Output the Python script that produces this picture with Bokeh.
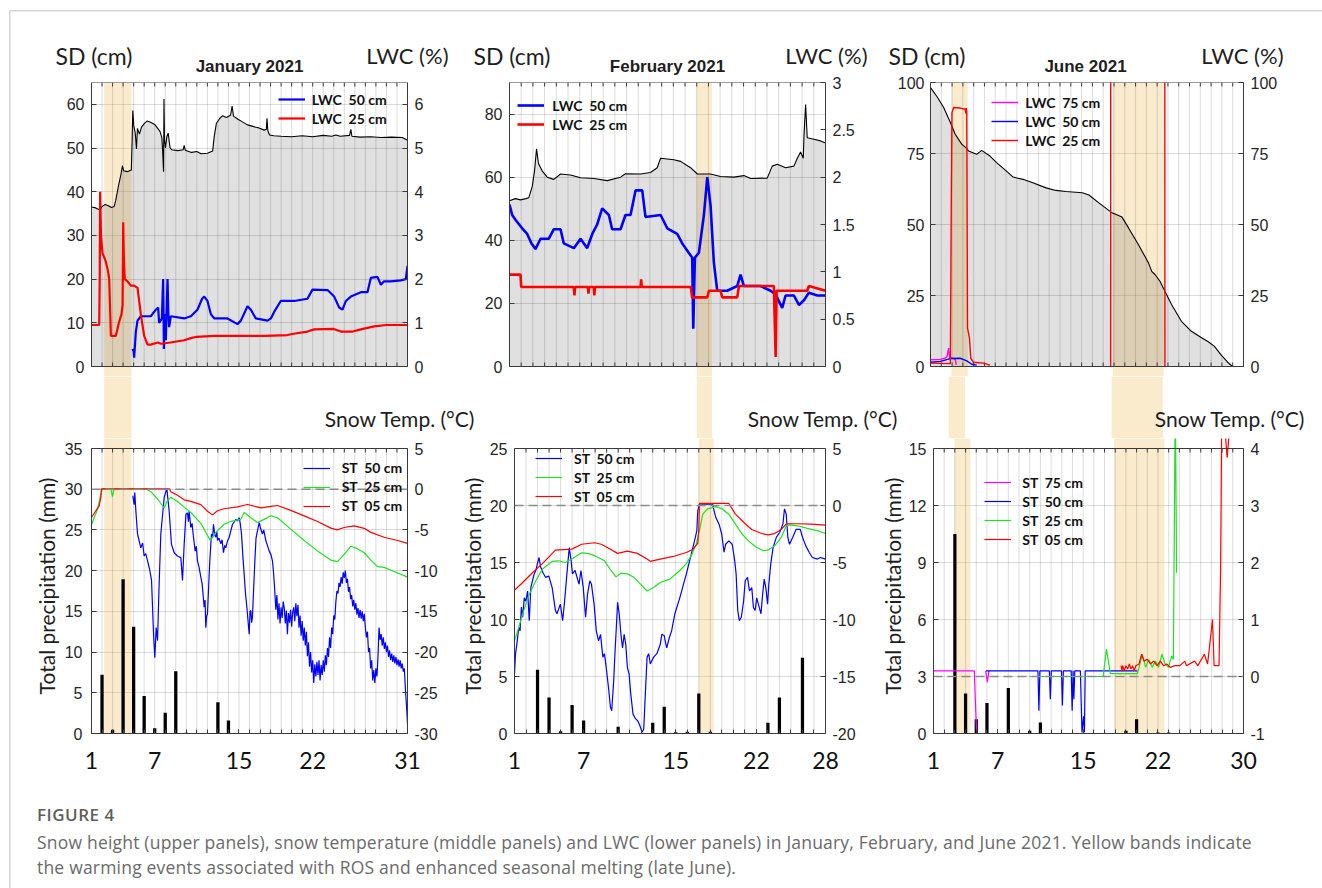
import math
from bokeh.plotting import figure
from bokeh.models import (Range1d, LinearAxis, FixedTicker, Span, Label, Legend, Title,
                          LegendItem, Div, NumeralTickFormatter, BoxAnnotation)
from bokeh.layouts import column, row
from bokeh.embed import file_html
from bokeh.resources import INLINE

NaN = float("nan")

# ======================= DATA (day of month, value) =======================
# ---------- January 2021 ----------
jan_days = list(range(1, 32))
jan_xlabels = [1, 7, 15, 22, 31]
jan_bands = [(2.2, 4.8)]
jan_sd_ticks = [0, 10, 20, 30, 40, 50, 60]
jan_lwc_ticks = [0, 1, 2, 3, 4, 5, 6]
jan_p_ticks = [0, 5, 10, 15, 20, 25, 30, 35]
jan_st_ticks = [-30, -25, -20, -15, -10, -5, 0, 5]
jan_sd = [(1.00,36.5),(1.40,36.3),(1.80,35.8),(2.00,36.6),(2.30,37.1),(2.60,36.8),(2.90,36.4),(3.15,36.6),
          (3.30,38.0),(3.55,41.2),(3.80,44.0),(3.94,46.0),(4.05,44.8),(4.40,44.6),(4.78,45.0),(4.86,52.0),
          (4.92,58.6),(5.02,55.0),(5.15,53.5),(5.27,49.8),(5.36,54.5),(5.55,53.2),(5.75,54.8),(6.00,55.6),
          (6.30,56.2),(6.60,55.9),(7.00,55.4),(7.25,54.6),(7.50,53.8),(7.68,52.4),(7.78,48.0),(7.84,44.6),
          (7.88,61.2),(7.93,52.0),(8.02,50.0),(8.15,52.6),(8.28,53.4),(8.45,50.2),(8.60,49.6),(9.20,49.4),
          (9.70,49.6),(9.80,50.6),(9.90,49.5),(10.50,49.0),(11.00,49.2),(11.40,48.7),(12.00,48.8),(12.50,49.3),
          (12.65,52.6),(12.85,55.6),(13.15,56.7),(13.45,57.4),(13.80,57.0),(14.20,57.5),(14.35,59.6),(14.48,57.3),
          (14.90,56.6),(15.25,56.1),(15.80,55.3),(16.40,54.9),(16.90,54.6),(17.40,54.1),(17.60,54.3),(17.66,56.8),
          (17.74,54.0),(17.90,53.0),(18.30,52.8),(19.00,52.7),(20.00,52.6),(21.00,52.8),(22.00,52.6),(23.00,52.9),
          (23.80,52.7),(24.20,53.0),(24.60,52.7),(25.50,52.9),(25.62,54.3),(25.72,52.7),(26.50,52.5),(27.50,52.6),
          (28.50,52.4),(29.50,52.5),(30.50,52.4),(31.00,51.8)]
jan_lwc50 = [(4.89,0.40),(5.00,0.35),(5.05,0.20),(5.21,0.80),(5.37,1.05),(5.68,1.15),(6.63,1.15),(7.11,1.30),
             (7.33,1.35),(7.42,1.00),(7.68,1.10),(7.80,2.00),(7.85,1.00),(7.87,0.40),(7.95,1.20),(8.06,0.60),
             (8.15,1.50),(8.22,2.00),(8.30,1.20),(8.37,0.90),(8.53,1.15),(9.80,1.10),(10.43,1.15),(11.06,1.30),
             (11.50,1.55),(11.70,1.60),(12.01,1.50),(12.33,1.20),(12.65,1.10),(13.91,1.10),(14.86,0.97),(15.18,1.05),
             (15.81,1.38),(16.13,1.30),(16.60,1.10),(17.71,1.05),(18.03,1.10),(18.34,1.25),(18.97,1.50),(20.24,1.50),
             (21.50,1.55),(21.98,1.76),(23.41,1.75),(24.04,1.60),(24.51,1.35),(24.83,1.30),(25.15,1.50),(25.62,1.60),
             (26.57,1.70),(27.20,1.70),(27.52,2.03),(28.15,2.05),(28.47,1.87),(28.78,1.95),(29.42,1.95),(30.37,1.97),
             (30.84,2.00),(31.00,2.30)]
jan_lwc25 = [(1.00,0.95),(1.73,0.95),(1.78,2.00),(1.82,4.00),(1.90,3.00),(2.04,2.60),(2.36,2.40),(2.55,2.20),
             (2.68,2.00),(2.78,1.20),(2.84,0.70),(3.31,0.70),(3.60,1.00),(3.72,1.10),(3.85,1.20),(3.95,1.40),
             (4.01,3.30),(4.08,2.40),(4.16,2.00),(4.42,1.95),(4.73,1.85),(5.05,1.85),(5.37,1.80),(5.68,1.20),
             (6.00,0.70),(6.32,0.50),(6.63,0.50),(7.27,0.55),(7.60,0.52),(8.50,0.55),(9.80,0.60),(10.43,0.65),
             (11.00,0.68),(12.65,0.70),(15.00,0.70),(17.50,0.70),(19.60,0.72),(20.20,0.75),(21.50,0.80),(22.14,0.85),
             (24.00,0.86),(24.67,0.80),(25.80,0.80),(26.57,0.85),(27.84,0.92),(29.00,0.95),(31.00,0.95)]
jan_precip_day = [2, 3, 4, 5, 6, 7, 8, 9, 10, 13, 14, 18]
jan_precip_mm = [7.2, 0.45, 18.95, 13.1, 4.6, 0.65, 2.55, 7.65, 0.1, 3.85, 1.6, 0.1]
jan_st05 = [(1.00,-3.47),(1.41,-2.65),(1.73,-2.04),(1.89,-1.0),(1.95,0.05),(8.40,0.05),(8.53,-0.3),(9.16,-0.75),
            (9.80,-1.3),(10.43,-1.5),(11.38,-1.9),(12.01,-2.7),(12.49,-3.15),(12.96,-2.65),(13.59,-2.4),(14.86,-2.16),
            (15.81,-1.88),(17.08,-2.3),(18.03,-2.1),(18.66,-2.0),(19.92,-2.6),(21.19,-3.27),(22.46,-3.96),(23.72,-4.78),
            (24.35,-5.0),(24.99,-4.7),(25.94,-4.5),(26.89,-4.8),(27.52,-5.3),(28.78,-5.9),(30.05,-6.3),(31.00,-6.66)]
jan_st25 = [(1.00,-4.37),(1.25,-3.5),(1.57,-2.5),(1.89,-0.5),(2.04,0.05),(2.84,0.05),(2.99,-0.9),(3.15,0.05),
            (6.16,0.05),(6.63,-0.3),(7.27,-1.2),(7.90,-2.3),(8.15,-1.5),(8.53,-1.0),(9.16,-1.5),(9.80,-2.2),
            (10.43,-2.86),(11.38,-4.2),(12.27,-6.26),(12.80,-5.3),(13.59,-4.3),(14.23,-3.96),(15.18,-3.7),(15.49,-2.86),
            (16.13,-3.5),(16.76,-4.1),(17.39,-3.7),(18.03,-3.27),(18.66,-3.5),(19.92,-4.9),(21.19,-6.3),(22.46,-7.6),
            (23.72,-8.7),(24.35,-8.9),(24.99,-8.0),(25.62,-7.0),(26.25,-7.3),(26.89,-7.8),(27.52,-8.7),(28.15,-9.5),
            (28.78,-9.6),(29.73,-10.1),(31.00,-10.8)]
jan_st50 = [(4.92,-0.8),(5.05,-1.9),(5.11,-0.4),(5.21,-2.65),(5.37,-5.5),(5.68,-7.2),(5.85,-6.6),(6.00,-8.2),
            (6.15,-7.9),(6.32,-8.8),(6.51,-9.8),(6.70,-11.2),(6.89,-17.8),(7.01,-20.7),(7.14,-17.0),(7.27,-18.6),
            (7.42,-11.7),(7.58,-5.5),(7.90,-1.0),(8.15,0.1),(8.37,-2.65),(8.59,-6.75),(8.85,-7.8),(9.16,-8.2),
            (9.48,-8.4),(9.64,-11.2),(9.80,-6.7),(9.96,-3.1),(10.11,-2.9),(10.20,-4.0),(10.27,-2.7),(10.43,-4.7),
            (10.55,-4.2),(10.65,-5.5),(10.84,-7.6),(10.95,-7.0),(11.06,-8.8),(11.20,-9.5),(11.38,-10.8),(11.50,-11.6),
            (11.70,-14.5),(11.78,-13.6),(11.85,-17.0),(11.93,-15.6),(12.01,-15.3),(12.12,-12.0),(12.23,-8.8),(12.39,-5.5),
            (12.50,-6.0),(12.58,-4.3),(12.70,-5.6),(12.80,-5.9),(12.90,-5.2),(12.96,-6.3),(13.10,-6.0),(13.28,-6.7),
            (13.40,-6.2),(13.53,-7.8),(13.65,-6.9),(13.75,-7.2),(13.90,-6.4),(14.07,-5.9),(14.25,-5.0),(14.39,-4.3),
            (14.55,-4.0),(14.70,-3.7),(14.85,-3.9),(15.02,-3.5),(15.12,-4.2),(15.24,-5.5),(15.36,-8.0),(15.49,-10.4),
            (15.62,-12.8),(15.75,-14.5),(15.85,-16.0),(15.97,-17.8),(16.05,-15.0),(16.13,-14.9),(16.20,-16.4),(16.28,-15.7),
            (16.40,-12.0),(16.51,-8.8),(16.62,-6.0),(16.76,-5.1),(16.92,-4.1),(17.05,-4.8),(17.23,-5.5),(17.35,-5.0),
            (17.55,-6.3),(17.70,-6.9),(17.87,-7.6),(18.03,-8.0),(18.18,-8.8),(18.30,-10.5),(18.40,-12.5),(18.50,-14.8),
            (18.60,-13.0),(18.70,-16.0),(18.80,-14.0),(18.90,-16.5),(19.00,-14.5),(19.10,-15.8),(19.20,-13.8),(19.30,-14.6),
            (19.40,-16.5),(19.50,-14.9),(19.60,-17.8),(19.70,-15.2),(19.80,-16.4),(19.90,-14.8),(20.00,-16.9),(20.10,-15.1),
            (20.20,-14.5),(20.30,-16.2),(20.40,-14.0),(20.50,-15.6),(20.60,-14.2),(20.70,-17.0),(20.80,-15.5),(20.90,-18.0),
            (21.00,-16.2),(21.10,-18.6),(21.20,-17.0),(21.30,-19.2),(21.40,-17.5),(21.50,-20.5),(21.60,-18.8),(21.70,-21.8),
            (21.80,-20.0),(21.90,-22.5),(22.00,-21.0),(22.10,-23.8),(22.20,-21.5),(22.30,-23.0),(22.40,-21.2),(22.50,-22.8),
            (22.60,-21.0),(22.70,-23.5),(22.80,-21.6),(22.90,-22.8),(23.00,-21.0),(23.10,-22.4),(23.20,-20.4),(23.30,-21.6),
            (23.40,-19.5),(23.50,-20.6),(23.60,-18.2),(23.70,-19.5),(23.80,-17.0),(23.90,-17.8),(24.00,-15.5),(24.10,-16.0),
            (24.20,-13.8),(24.30,-12.5),(24.40,-12.8),(24.50,-11.5),(24.60,-12.0),(24.70,-10.8),(24.80,-11.6),(24.90,-10.2),
            (25.00,-10.9),(25.10,-10.0),(25.20,-11.5),(25.30,-11.0),(25.40,-12.6),(25.50,-12.0),(25.60,-13.5),(25.70,-13.0),
            (25.80,-14.4),(25.90,-13.6),(26.00,-14.8),(26.10,-14.0),(26.20,-15.4),(26.30,-14.6),(26.40,-15.8),(26.50,-14.8),
            (26.60,-15.9),(26.70,-15.0),(26.80,-16.2),(26.90,-15.3),(27.00,-17.0),(27.10,-18.2),(27.20,-17.5),(27.30,-20.0),
            (27.40,-19.5),(27.50,-22.0),(27.60,-21.0),(27.70,-23.5),(27.80,-22.2),(27.90,-23.8),(28.00,-22.0),(28.10,-23.0),
            (28.20,-20.5),(28.30,-17.0),(28.40,-18.5),(28.50,-17.8),(28.60,-19.2),(28.70,-18.2),(28.80,-19.6),(28.90,-18.8),
            (29.00,-20.0),(29.10,-19.2),(29.20,-20.6),(29.30,-19.8),(29.40,-21.0),(29.50,-20.2),(29.60,-21.2),(29.70,-20.4),
            (29.80,-21.4),(29.90,-20.6),(30.00,-21.6),(30.10,-20.9),(30.20,-21.8),(30.30,-21.0),(30.40,-22.0),(30.50,-21.4),
            (30.60,-22.4),(30.70,-22.0),(30.80,-24.5),(30.90,-26.5),(31.00,-28.8)]

# ---------- February 2021 ----------
feb_days = list(range(1, 29))
feb_xlabels = [1, 7, 15, 22, 28]
feb_bands = [(17.0, 18.3)]
feb_sd_ticks = [0, 20, 40, 60, 80]
feb_lwc_ticks = [0, 0.5, 1, 1.5, 2, 2.5, 3]
feb_p_ticks = [0, 5, 10, 15, 20, 25]
feb_st_ticks = [-20, -15, -10, -5, 0, 5]
feb_sd = [(1.00,52.5),(1.50,53.2),(1.94,52.8),(2.40,53.2),(2.65,53.5),(2.94,57.0),(3.14,62.0),(3.31,69.0),
          (3.45,65.0),(3.51,64.0),(3.79,62.0),(4.22,60.0),(4.79,59.3),(5.36,61.0),(6.21,60.7),(7.07,59.8),
          (8.21,59.6),(9.35,58.9),(10.49,60.0),(10.91,61.1),(12.20,61.0),(13.05,61.5),(13.62,63.0),(13.91,66.0),
          (15.05,65.5),(15.62,65.0),(16.47,63.0),(17.05,61.0),(18.18,61.0),(19.03,60.2),(20.17,60.0),(21.03,60.5),
          (21.60,59.6),(23.02,59.7),(23.45,63.5),(23.88,64.1),(24.59,63.0),(25.30,63.5),(25.59,66.0),(25.87,68.0),
          (26.10,66.0),(26.16,73.0),(26.30,83.0),(26.44,72.5),(27.01,72.0),(27.58,71.5),(28.00,70.8)]
feb_lwc50 = [(1.00,1.71),(1.23,1.60),(1.51,1.55),(2.08,1.46),(2.51,1.40),(2.88,1.30),(3.22,1.24),(3.65,1.35),
             (4.36,1.35),(4.79,1.45),(5.36,1.45),(5.64,1.30),(6.50,1.25),(7.07,1.35),(7.64,1.25),(8.07,1.40),
             (8.49,1.50),(8.92,1.67),(9.49,1.60),(9.77,1.45),(10.49,1.45),(10.91,1.60),(11.34,1.60),(11.77,1.86),
             (12.34,1.86),(12.62,1.58),(13.91,1.60),(14.48,1.46),(15.33,1.40),(15.76,1.30),(16.33,1.20),(16.61,1.15),
             (16.70,0.40),(16.84,1.15),(17.18,1.20),(17.61,1.60),(17.90,2.00),(18.18,1.70),(18.46,1.10),(18.75,0.80),
             (19.60,0.80),(20.46,0.85),(20.74,0.97),(21.03,0.85),(22.45,0.85),(23.31,0.80),(23.74,0.76),(24.30,0.62),
             (24.59,0.75),(25.30,0.75),(25.73,0.65),(26.16,0.70),(26.58,0.78),(27.30,0.75),(28.00,0.75)]
feb_lwc25 = [(1.00,0.97),(1.94,0.97),(2.00,0.84),(6.50,0.84),(6.55,0.75),(6.60,0.84),(7.70,0.84),(7.75,0.77),
             (7.80,0.84),(8.20,0.84),(8.25,0.75),(8.30,0.84),(12.20,0.84),(12.25,0.92),(12.30,0.84),(16.50,0.84),
             (16.60,0.73),(17.90,0.73),(18.04,0.80),(19.03,0.80),(19.18,0.73),(20.46,0.73),(20.60,0.85),(23.59,0.85),
             (23.74,0.10),(23.82,0.80),(26.44,0.80),(26.58,0.85),(28.00,0.80)]
feb_precip_day = [3, 4, 5, 6, 7, 10, 13, 14, 15, 16, 17, 18, 23, 24, 26]
feb_precip_mm = [5.6, 3.15, 0.2, 2.5, 1.15, 0.6, 0.95, 2.35, 0.1, 0.15, 3.5, 0.15, 0.95, 3.15, 6.65]
feb_st05 = [(1.00,-7.43),(1.71,-6.75),(2.56,-5.9),(3.42,-5.1),(4.55,-3.92),(5.97,-3.83),(6.83,-3.4),(7.96,-3.27),
            (8.53,-3.4),(9.10,-3.7),(9.95,-4.2),(10.80,-4.0),(11.66,-4.2),(12.51,-4.7),(12.79,-4.9),(13.65,-4.7),
            (14.78,-4.47),(15.92,-4.12),(16.49,-3.83),(16.91,-3.33),(17.00,-2.0),(17.06,0.18),(19.61,0.18),(20.18,-0.76),
            (21.03,-1.6),(21.60,-2.1),(22.46,-2.46),(23.02,-2.57),(23.59,-2.46),(24.16,-2.1),(24.59,-1.64),(24.73,-1.6),
            (25.58,-1.6),(26.72,-1.64),(28.00,-1.73)]
feb_st25 = [(1.00,-11.87),(1.28,-11.0),(1.71,-9.5),(2.28,-7.8),(2.85,-6.6),(3.42,-5.6),(4.27,-4.9),(4.84,-4.85),
            (5.40,-5.0),(5.97,-4.7),(6.83,-4.15),(7.39,-4.2),(7.96,-4.4),(8.81,-4.85),(9.38,-5.7),(9.81,-6.26),
            (10.24,-5.94),(10.80,-6.0),(11.37,-6.3),(11.94,-6.9),(12.51,-7.5),(13.08,-7.2),(13.65,-6.75),(14.50,-6.46),
            (15.35,-5.7),(15.92,-5.1),(16.35,-4.4),(16.77,-3.4),(17.06,-2.2),(17.34,-0.76),(17.77,-0.3),(18.48,-0.1),
            (19.04,-0.3),(19.61,-0.76),(20.18,-1.64),(20.75,-2.5),(21.32,-3.1),(21.89,-3.6),(22.60,-3.97),(23.02,-3.9),
            (23.59,-3.54),(24.16,-2.8),(24.59,-1.78),(24.87,-1.7),(25.58,-1.78),(26.43,-2.0),(27.29,-2.2),(28.00,-2.46)]
feb_st50 = [(1.00,-14.8),(1.09,-13.0),(1.20,-12.2),(1.37,-10.7),(1.48,-11.0),(1.60,-8.9),(1.71,-9.8),(1.85,-8.1),
            (1.99,-8.4),(2.14,-7.5),(2.28,-10.1),(2.42,-7.2),(2.56,-6.6),(2.71,-6.0),(2.85,-5.7),(2.99,-5.1),
            (3.13,-4.56),(3.27,-5.4),(3.47,-5.9),(3.70,-6.3),(3.98,-6.2),(4.27,-7.2),(4.55,-9.2),(4.69,-9.5),
            (4.98,-8.65),(5.18,-10.1),(5.35,-8.4),(5.55,-6.0),(5.75,-3.7),(5.92,-4.85),(6.03,-6.0),(6.26,-5.7),
            (6.60,-6.9),(6.77,-5.7),(6.97,-7.2),(7.17,-9.8),(7.34,-7.8),(7.54,-6.6),(7.68,-6.9),(7.91,-8.65),
            (8.10,-11.0),(8.30,-11.87),(8.47,-11.3),(8.67,-13.3),(8.81,-13.0),(8.96,-14.2),(9.16,-15.96),(9.33,-17.7),
            (9.44,-18.0),(9.61,-15.4),(9.72,-13.0),(9.84,-10.7),(9.95,-8.5),(10.09,-9.5),(10.24,-11.3),(10.38,-12.5),
            (10.52,-11.3),(10.66,-12.2),(10.80,-14.2),(10.95,-14.8),(11.09,-16.5),(11.29,-18.3),(11.51,-18.7),(11.71,-18.9),
            (11.88,-19.3),(12.08,-19.9),(12.22,-19.6),(12.37,-16.3),(12.51,-13.3),(12.65,-13.0),(12.79,-13.9),(13.08,-13.3),
            (13.36,-13.0),(13.65,-12.2),(13.79,-11.3),(13.99,-11.4),(14.21,-12.5),(14.44,-11.6),(14.64,-11.0),(14.92,-9.5),
            (15.35,-8.1),(15.92,-6.0),(16.35,-4.27),(16.63,-3.1),(16.83,-2.2),(16.91,-0.47),(17.06,0.12),(18.19,0.12),
            (18.33,-0.47),(18.48,-1.06),(18.76,-1.64),(18.99,-2.5),(19.19,-4.1),(19.33,-3.4),(19.61,-3.1),(19.90,-3.4),
            (20.12,-4.85),(20.24,-6.0),(20.38,-9.2),(20.52,-10.1),(20.69,-9.8),(20.89,-8.4),(21.03,-6.6),(21.23,-6.3),
            (21.40,-7.5),(21.60,-7.2),(21.74,-8.95),(21.89,-9.2),(22.03,-8.1),(22.17,-8.65),(22.40,-9.5),(22.54,-7.8),
            (22.68,-6.46),(22.82,-7.2),(22.97,-8.65),(23.08,-6.9),(23.25,-5.1),(23.45,-3.7),(23.73,-2.8),(24.02,-2.37),
            (24.30,-1.64),(24.44,-0.3),(24.59,-0.76),(24.73,-2.8),(24.87,-3.4),(25.15,-2.8),(25.44,-2.1),(25.81,-2.1),
            (26.01,-2.8),(26.29,-3.54),(26.58,-4.1),(26.86,-4.56),(27.29,-4.7),(27.57,-4.56),(28.00,-4.7)]

# ---------- June 2021 ----------
jun_days = list(range(1, 31))
jun_xlabels = [1, 7, 15, 22, 30]
jun_bands = [(2.95, 4.45), (17.9, 22.6)]
jun_sd_ticks = [0, 25, 50, 75, 100]
jun_lwc_ticks = [0, 25, 50, 75, 100]
jun_p_ticks = [0, 3, 6, 9, 12, 15]
jun_st_ticks = [-1, 0, 1, 2, 3, 4]
jun_sd = [(1.00,98.2),(1.61,95.0),(2.22,91.2),(2.84,85.9),(3.29,81.8),(3.91,78.2),(4.36,76.8),(4.52,75.9),
          (5.28,74.7),(5.74,76.1),(6.51,74.1),(7.12,71.8),(8.04,68.8),(8.65,66.7),(9.57,65.9),(10.48,64.7),
          (11.71,62.9),(12.62,62.0),(13.54,61.6),(15.07,61.2),(15.68,60.4),(16.60,57.6),(17.82,54.1),(18.74,52.6),
          (19.35,48.8),(20.27,42.9),(21.19,36.5),(21.50,33.5),(21.80,32.4),(22.26,30.0),(22.72,26.5),(23.33,21.8),
          (24.25,15.9),(25.17,12.4),(26.08,10.2),(26.70,8.8),(27.31,7.1),(27.92,4.1),(28.53,1.5),(28.99,0.0),(30.00,0.0)]
jun_lwc75 = [(1.00,2.4),(1.92,2.5),(2.38,3.0),(2.53,3.5),(2.68,6.5),(2.77,3.0),(2.99,3.0),(3.29,2.5),(3.39,0.6)]
jun_lwc50 = [(1.00,1.5),(1.92,1.8),(2.84,2.8),(3.75,2.9),(4.36,2.0),(4.82,0.8),(5.28,0.5)]
jun_lwc25 = [(1.00,1.2),(2.84,1.0),(2.93,60.0),(2.99,89.4),(3.14,91.2),(3.75,91.0),(4.21,90.6),(4.28,89.0),
             (4.30,91.0),(4.36,90.0),(4.43,13.5),(4.61,10.0),(4.73,2.9),(4.98,1.5),(5.89,1.2),(6.51,0.5),
             (NaN,NaN),(17.69,0.0),(17.70,120.0),(22.71,120.0),(22.72,0.0)]
jun_precip_day = [3, 4, 5, 6, 8, 10, 11, 19, 20, 22, 23]
jun_precip_mm = [10.5, 2.1, 0.75, 1.6, 2.4, 0.15, 0.58, 0.15, 0.75, 0.05, 0.05]
jun_st75 = [(1.00,0.1),(4.82,0.1),(4.91,-0.4),(5.03,-0.98),(NaN,NaN),(5.88,0.1),(6.04,-0.1),(6.19,0.1)]
jun_st50 = [(5.90,0.1),(10.77,0.1),(10.86,-0.6),(10.95,0.1),(11.84,0.1),(11.93,-0.4),(12.02,0.1),(12.97,0.1),
            (13.06,-0.51),(13.15,0.1),(13.88,0.1),(13.97,-0.6),(14.06,0.1),(14.13,-0.4),(14.22,0.1),(14.74,0.1),
            (14.89,-0.98),(15.04,-0.7),(15.12,-0.98),(15.19,0.1),(20.08,0.1)]
jun_st25 = [(10.00,0.0),(16.87,0.0),(17.18,0.48),(17.42,0.2),(17.54,0.05),(20.08,0.05),(20.23,0.16),(20.54,0.39),
            (20.84,0.16),(21.15,0.3),(21.45,0.16),(21.76,0.27),(22.06,0.16),(22.37,0.39),(22.67,0.22),(22.98,0.16),
            (23.28,0.36),(23.44,0.3),(23.59,4.2),(23.65,4.2),(23.74,1.82)]
jun_st05 = [(18.55,0.19),(18.62,0.1),(18.70,0.19),(18.85,0.1),(19.01,0.19),(19.16,0.13),(19.32,0.22),(19.47,0.13),
            (19.62,0.19),(19.78,0.1),(19.93,0.19),(20.23,0.22),(20.47,0.39),(20.69,0.27),(20.99,0.3),(21.30,0.22),
            (21.60,0.27),(21.91,0.19),(22.22,0.27),(22.52,0.19),(22.83,0.22),(23.13,0.16),(23.59,0.19),(24.05,0.19),
            (24.51,0.27),(24.66,0.19),(25.42,0.27),(25.73,0.19),(26.34,0.39),(26.64,0.22),(27.10,1.0),(27.25,0.19),
            (27.71,0.19),(27.86,1.91),(27.95,4.2),(28.17,4.2),(28.32,4.2),(28.47,3.84),(28.63,4.2)]

# ======================= LAYOUT / STYLE =======================
TOTAL_W = 1314
FRAME_W = 316
HEAD_H = 76
TOP_Y0, TOP_ZERO, TOP_Y1 = 82, 366, 376     # px: frame top, SD=0 line, frame bottom (extended)
BOT_Y0, BOT_TOP, BOT_Y1 = 438, 448, 733     # px: frame top (extended), top edge, frame bottom
BOT_BORDER = 52
EDGE = "#3a3a3a"
TXT = "#1e1e1e"
TICK_TXT = "#262626"
BAND = "#F4C164"
BAND_A = 0.32
GRID_A = 0.14
TICK_LEN = 4
BLUE, RED, GREEN, MAG = "#0000FF", "#FF0000", "#22E022", "#FF00FF"
ITEM_H, ITEM_SP = 17, 2


def xy(pairs):
    return [p[0] for p in pairs], [p[1] for p in pairs]


def style_y(ax, standoff):
    ax.major_tick_in = 5
    ax.major_tick_out = 0
    ax.minor_tick_line_color = None
    ax.axis_line_color = EDGE
    ax.major_tick_line_color = EDGE
    ax.major_label_text_font = "Liberation Sans"
    ax.major_label_text_font_size = "16px"
    ax.major_label_text_color = TICK_TXT
    ax.major_label_standoff = standoff
    ax.formatter = NumeralTickFormatter(format="0.[0]")


def add_legend(p, items, fl, frame_bottom, line_x, row1_y, standoff):
    n = len(items)
    bottom = row1_y - ITEM_H / 2 + n * ITEM_H + (n - 1) * ITEM_SP
    leg = Legend(items=items, location=(line_x - fl, frame_bottom - bottom),
                 label_text_font="Lato", label_text_font_style="bold", label_text_font_size="14px",
                 label_text_color="#111111", glyph_width=27, glyph_height=14, label_height=14,
                 label_standoff=standoff, spacing=ITEM_SP, padding=0, margin=0,
                 border_line_color=None, background_fill_alpha=0)
    p.add_layout(leg)


def blank_strip(height, y_top):
    p = figure(width=TOTAL_W, height=height, x_range=Range1d(0, TOTAL_W), y_range=Range1d(y_top + height, y_top),
               min_border=0, min_border_left=0, min_border_right=0, min_border_top=0, min_border_bottom=0,
               x_axis_location=None, y_axis_location=None, title=None, toolbar_location=None,
               output_backend="svg")
    p.outline_line_color = None
    p.background_fill_color = None
    p.border_fill_color = None
    p.grid.visible = False
    return p


def strip_label(p, x, y, text, align, font, size, style="normal"):
    p.add_layout(Label(x=x, y=y, text=text, text_align=align, text_baseline="middle",
                       text_font=font, text_font_size=size, text_font_style=style, text_color=TXT))


def edge_ticks(p, days, y_edge, length, inward_sign):
    # short inward tick marks along a horizontal frame edge (one per day)
    p.segment(x0=days, y0=y_edge, x1=days, y1=y_edge + inward_sign * length, line_color=EDGE, line_width=1)


def top_panel(c):
    fl, x_end = c["fl"], c["days"][-1]
    sd_max, lwc_max = c["sd_max"], c["lwc_max"]
    k = sd_max / (TOP_ZERO - TOP_Y0)
    y0 = -(TOP_Y1 - TOP_ZERO) * k
    p = figure(width=c["top_right"] - c["top_left"], height=TOP_Y1 - HEAD_H,
               x_range=Range1d(1, x_end), y_range=Range1d(y0, sd_max),
               min_border_left=fl - c["top_left"], min_border_right=c["top_right"] - (fl + FRAME_W),
               min_border_top=TOP_Y0 - HEAD_H, min_border_bottom=0,
               x_axis_location=None, title=None, toolbar_location=None, output_backend="svg")
    p.outline_line_color = None
    p.background_fill_color = "white"
    p.border_fill_color = None
    p.extra_y_ranges = {"lwc": Range1d(y0 * lwc_max / sd_max, lwc_max)}
    for g in p.xgrid:
        g.visible = False
    p.ygrid.ticker = FixedTicker(ticks=c["sd_ticks"])
    p.ygrid.grid_line_color = "black"
    p.ygrid.grid_line_alpha = GRID_A

    bl, br = xy(c["bands"])
    p.quad(left=bl, right=br, bottom=y0, top=sd_max, fill_color=BAND, fill_alpha=BAND_A, line_color=None)
    p.segment(x0=c["days"], y0=0, x1=c["days"], y1=sd_max, line_color="black", line_alpha=GRID_A, line_width=1)
    sx, sy = xy(c["sd"])
    p.varea(x=sx, y1=0, y2=sy, fill_color="black", fill_alpha=0.12)
    p.line(sx, sy, line_color="black", line_width=1.1)
    edge_ticks(p, c["days"], sd_max, TICK_LEN * k, -1)
    edge_ticks(p, c["days"], 0, TICK_LEN * k, 1)
    items = []
    for lab, col, pairs in c["lwc"]:
        lx, ly = xy(pairs)
        r = p.line(lx, ly, line_color=col, line_width=c["lwc_w"], y_range_name="lwc")
        items.append(LegendItem(label=lab, renderers=[r]))

    ya = p.yaxis[0]
    ya.ticker = FixedTicker(ticks=c["sd_ticks"])
    ya.bounds = (0, sd_max)
    style_y(ya, c["top_lstand"])
    ra = LinearAxis(y_range_name="lwc", ticker=FixedTicker(ticks=c["lwc_ticks"]), bounds=(0, lwc_max))
    style_y(ra, 7)
    p.add_layout(ra, "right")
    p.add_layout(Span(location=0, dimension="width", line_color=EDGE, line_width=1))
    p.add_layout(Span(location=sd_max, dimension="width", line_color=EDGE, line_width=1))
    add_legend(p, items, fl, TOP_Y1, c["tleg_x"], c["tleg_y"], c["tleg_st"])
    return p


def bottom_panel(c):
    fl, x_end = c["fl"], c["days"][-1]
    p_max = c["p_max"]
    t_min, t_max = c["st_range"]
    k = p_max / (BOT_Y1 - BOT_TOP)
    y1 = p_max + (BOT_TOP - BOT_Y0) * k
    p = figure(width=c["bot_right"] - c["bot_left"], height=BOT_Y1 - BOT_Y0 + BOT_BORDER,
               x_range=Range1d(1, x_end), y_range=Range1d(0, y1),
               min_border_left=fl - c["bot_left"], min_border_right=c["bot_right"] - (fl + FRAME_W),
               min_border_top=0, min_border_bottom=BOT_BORDER,
               title=None, toolbar_location=None, output_backend="svg")
    p.outline_line_color = None
    p.background_fill_color = "white"
    p.border_fill_color = None
    st_k = (t_max - t_min) / p_max
    p.extra_y_ranges = {"st": Range1d(t_min, t_min + y1 * st_k)}
    p.xgrid.visible = False
    p.ygrid.ticker = FixedTicker(ticks=c["p_ticks"])
    p.ygrid.grid_line_color = "black"
    p.ygrid.grid_line_alpha = GRID_A

    bl, br = xy(c["bands"])
    p.quad(left=bl, right=br, bottom=0, top=y1, fill_color=BAND, fill_alpha=BAND_A, line_color=None)
    p.segment(x0=c["days"], y0=0, x1=c["days"], y1=p_max, line_color="black", line_alpha=GRID_A, line_width=1)
    edge_ticks(p, c["days"], p_max, TICK_LEN * k, -1)
    p.add_layout(Span(location=0, y_range_name="st", dimension="width", line_color="#8a8a8a",
                      line_width=1.5, line_dash="9 5"))
    bar_w = 3.3 * (x_end - 1) / FRAME_W
    p.vbar(x=c["p_day"], top=c["p_mm"], width=bar_w, bottom=0, fill_color="black", line_color=None)
    items = []
    for lab, col, pairs in c["st"]:
        lx, ly = xy(pairs)
        r = p.line(lx, ly, line_color=col, line_width=1.2, y_range_name="st")
        items.append(LegendItem(label=lab, renderers=[r]))

    ya = p.yaxis[0]
    ya.ticker = FixedTicker(ticks=c["p_ticks"])
    ya.bounds = (0, p_max)
    style_y(ya, c["bot_lstand"])
    ra = LinearAxis(y_range_name="st", ticker=FixedTicker(ticks=c["st_ticks"]), bounds=(t_min, t_max))
    style_y(ra, 7)
    p.add_layout(ra, "right")
    xa = p.xaxis[0]
    xa.ticker = FixedTicker(ticks=c["xlabels"], minor_ticks=c["days"])
    xa.major_tick_in = 4
    xa.major_tick_out = 0
    xa.minor_tick_in = 4
    xa.minor_tick_out = 0
    xa.axis_line_color = EDGE
    xa.major_tick_line_color = EDGE
    xa.minor_tick_line_color = EDGE
    xa.major_label_text_font = "Lato"
    xa.major_label_text_font_size = "23px"
    xa.major_label_text_color = "#111111"
    xa.major_label_standoff = 18
    p.add_layout(Span(location=p_max, dimension="width", line_color=EDGE, line_width=1))
    add_legend(p, items, fl, BOT_Y1, c["bleg_x"], c["bleg_y"], c["bleg_st"])
    mid = (BOT_Y0 + BOT_Y1) / 2
    p.add_layout(Title(text="Total precipitation (mm)", align="center", offset=mid - c["prec_y"],
                       standoff=c["prec_st"], text_font="Lato", text_font_size="21px",
                       text_font_style="normal", text_color=TXT), "left")
    return p


jan = dict(fl=91, top_left=0, top_right=476, bot_left=0, bot_right=456,
           days=jan_days, xlabels=jan_xlabels, bands=jan_bands, title="January 2021",
           sd_max=65, sd_ticks=jan_sd_ticks, lwc_max=6.5, lwc_ticks=jan_lwc_ticks, sd=jan_sd,
           lwc=[("LWC  50 cm", BLUE, jan_lwc50), ("LWC  25 cm", RED, jan_lwc25)], lwc_w=2.2,
           p_max=35, p_ticks=jan_p_ticks, st_range=(-30, 5), st_ticks=jan_st_ticks,
           p_day=jan_precip_day, p_mm=jan_precip_mm,
           st=[("ST  50 cm", BLUE, jan_st50), ("ST  25 cm", GREEN, jan_st25), ("ST  05 cm", RED, jan_st05)],
           sd_left=55, lwc_right=448, snow_right=475, top_lstand=7, bot_lstand=9,
           tleg_x=277.7, tleg_y=99.3, tleg_st=7, bleg_x=302.7, bleg_y=467.7, bleg_st=12,
           prec_y=604, prec_st=5)
feb = dict(fl=509, top_left=476, top_right=894, bot_left=456, bot_right=877,
           days=feb_days, xlabels=feb_xlabels, bands=feb_bands, title="February 2021",
           sd_max=90, sd_ticks=feb_sd_ticks, lwc_max=3, lwc_ticks=feb_lwc_ticks, sd=feb_sd,
           lwc=[("LWC  50 cm", BLUE, feb_lwc50), ("LWC  25 cm", RED, feb_lwc25)], lwc_w=2.6,
           p_max=25, p_ticks=feb_p_ticks, st_range=(-20, 5), st_ticks=feb_st_ticks,
           p_day=feb_precip_day, p_mm=feb_precip_mm,
           st=[("ST  50 cm", BLUE, feb_st50), ("ST  25 cm", GREEN, feb_st25), ("ST  05 cm", RED, feb_st05)],
           sd_left=473, lwc_right=867, snow_right=898, top_lstand=7, bot_lstand=7,
           tleg_x=517.3, tleg_y=105, tleg_st=8, bleg_x=530, bleg_y=458.3, bleg_st=12,
           prec_y=598, prec_st=3)
jun = dict(fl=927, top_left=894, top_right=1314, bot_left=877, bot_right=1314,
           days=jun_days, xlabels=jun_xlabels, bands=jun_bands, title="June 2021",
           sd_max=100, sd_ticks=jun_sd_ticks, lwc_max=100, lwc_ticks=jun_lwc_ticks, sd=jun_sd,
           lwc=[("LWC  75 cm", MAG, jun_lwc75), ("LWC  50 cm", BLUE, jun_lwc50), ("LWC  25 cm", RED, jun_lwc25)],
           lwc_w=1.4,
           p_max=15, p_ticks=jun_p_ticks, st_range=(-1, 4), st_ticks=jun_st_ticks,
           p_day=jun_precip_day, p_mm=jun_precip_mm,
           st=[("ST  75 cm", MAG, jun_st75), ("ST  50 cm", BLUE, jun_st50), ("ST  25 cm", GREEN, jun_st25),
               ("ST  05 cm", RED, jun_st05)],
           sd_left=888, lwc_right=1283, snow_right=1305, top_lstand=6, bot_lstand=7,
           tleg_x=988.3, tleg_y=102.3, tleg_st=7, bleg_x=978.3, bleg_y=482.3, bleg_st=11,
           prec_y=596, prec_st=1)
months = (jan, feb, jun)

# header strip: axis titles and panel titles
header = blank_strip(HEAD_H, 0)
for c in months:
    strip_label(header, c["sd_left"], 55, "SD (cm)", "left", "Lato", "23px")
    strip_label(header, c["lwc_right"], 55, "LWC (%)", "right", "Lato", "22px")
    strip_label(header, c["fl"] + FRAME_W / 2, 66, c["title"], "center", "Liberation Sans", "17px", "bold")

# gap strip: warming bands continue between panels + right-axis title of lower panels
gap = blank_strip(BOT_Y0 - TOP_Y1, TOP_Y1)
for i, c in enumerate(months):
    x_end = c["days"][-1]
    dpp = (x_end - 1) / FRAME_W
    name = "m%d" % i
    gap.extra_x_ranges[name] = Range1d(1 - c["fl"] * dpp, 1 + (TOTAL_W - c["fl"]) * dpp)
    for b0, b1 in c["bands"]:
        gap.add_layout(BoxAnnotation(left=b0, right=b1, x_range_name=name, fill_color=BAND,
                                     fill_alpha=BAND_A, line_color=None, level="underlay"))
    strip_label(gap, c["snow_right"], 418, "Snow Temp. (\u00b0C)", "right", "Lato", "21px")

tops = [top_panel(c) for c in months]
bots = [bottom_panel(c) for c in months]

caption = Div(text=(
    '<div style="font-family:\'Open Sans\',sans-serif;color:#6a6a6a;padding-left:32px;padding-top:13px;white-space:nowrap">'
    '<div style="font-size:17px;font-weight:600;color:#5e5e5e;letter-spacing:0.5px">FIGURE 4</div>'
    '<div style="font-size:17.5px;line-height:25px;margin-top:3px;letter-spacing:0.2px">Snow height (upper panels), '
    'snow temperature (middle panels) and LWC (lower panels) in January, February, and June 2021. Yellow bands indicate<br>'
    'the warming events associated with ROS and enhanced seasonal melting (late June).</div></div>'),
    width=TOTAL_W, height=95)

layout = column(header, row(*tops), gap, row(*bots), caption,
                styles={"background-image": "linear-gradient(#d6d6d6,#d6d6d6), linear-gradient(#d6d6d6,#d6d6d6)",
                        "background-size": "1.5px 100%, 100% 1.5px",
                        "background-position": "9px 10px, 9px 10px",
                        "background-repeat": "no-repeat"})
open("out.html", "w").write(file_html(layout, INLINE))
